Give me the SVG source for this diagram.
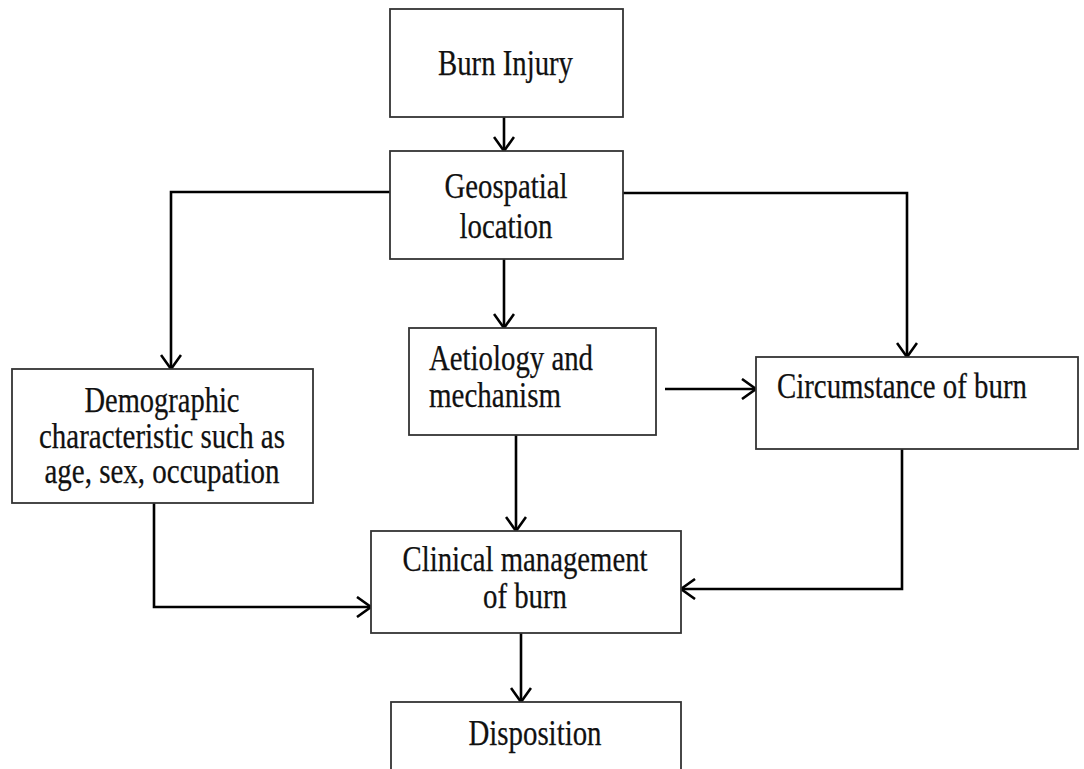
<svg xmlns="http://www.w3.org/2000/svg" width="1084" height="769" viewBox="0 0 1084 769">
<style>
.box{fill:#fff;stroke:#333;stroke-width:1.8}
.t{font-family:"Liberation Serif","Times New Roman",serif;font-size:35px;fill:#111;stroke:#111;stroke-width:0.25}
.c{text-anchor:middle}
.ln{fill:none;stroke:#000;stroke-width:2.6;marker-end:url(#arr)}
</style>
<defs>
<marker id="arr" markerWidth="20" markerHeight="22" refX="15" refY="11" orient="auto" markerUnits="userSpaceOnUse">
<path d="M1,1 L15,11 L1,21" fill="none" stroke="#000" stroke-width="2.6"/>
</marker>
</defs>
<rect width="1084" height="769" fill="#fff"/>
<g id="connectors">
<path class="ln" d="M504,117 L504,151"/>
<path class="ln" d="M390,192 L171,192 L171,369"/>
<path class="ln" d="M623,193 L907,193 L907,357"/>
<path class="ln" d="M504,259 L504,328"/>
<path class="ln" d="M665,389 L756,389"/>
<path class="ln" d="M516,435 L516,531"/>
<path class="ln" d="M154,503 L154,607 L371,607"/>
<path class="ln" d="M902,449 L902,589 L681,589"/>
<path class="ln" d="M521,633 L521,702"/>
</g>
<g id="burn-injury">
<rect class="box" x="390" y="9" width="233" height="108"/>
<text class="t c" x="505.5" y="75" textLength="135" lengthAdjust="spacingAndGlyphs">Burn Injury</text>
</g>
<g id="geospatial">
<rect class="box" x="390" y="151" width="233" height="108"/>
<text class="t c" x="506" y="198" textLength="123" lengthAdjust="spacingAndGlyphs">Geospatial</text>
<text class="t c" x="506" y="238" textLength="93" lengthAdjust="spacingAndGlyphs">location</text>
</g>
<g id="aetiology">
<rect class="box" x="409" y="328" width="247" height="107"/>
<text class="t" x="429" y="370" textLength="164" lengthAdjust="spacingAndGlyphs">Aetiology and</text>
<text class="t" x="429" y="407" textLength="132" lengthAdjust="spacingAndGlyphs">mechanism</text>
</g>
<g id="circumstance">
<rect class="box" x="756" y="357" width="322" height="92"/>
<text class="t" x="777" y="398" textLength="250" lengthAdjust="spacingAndGlyphs">Circumstance of burn</text>
</g>
<g id="demographic">
<rect class="box" x="12" y="369" width="301" height="134"/>
<text class="t c" x="162" y="412" textLength="155" lengthAdjust="spacingAndGlyphs">Demographic</text>
<text class="t c" x="162" y="448" textLength="246" lengthAdjust="spacingAndGlyphs">characteristic such as</text>
<text class="t c" x="162" y="483" textLength="235" lengthAdjust="spacingAndGlyphs">age, sex, occupation</text>
</g>
<g id="clinical">
<rect class="box" x="371" y="531" width="310" height="102"/>
<text class="t c" x="525" y="571" textLength="245" lengthAdjust="spacingAndGlyphs">Clinical management</text>
<text class="t c" x="525" y="608" textLength="84" lengthAdjust="spacingAndGlyphs">of burn</text>
</g>
<g id="disposition">
<rect class="box" x="391" y="702" width="290" height="80"/>
<text class="t c" x="535" y="745" textLength="133" lengthAdjust="spacingAndGlyphs">Disposition</text>
</g>
</svg>
